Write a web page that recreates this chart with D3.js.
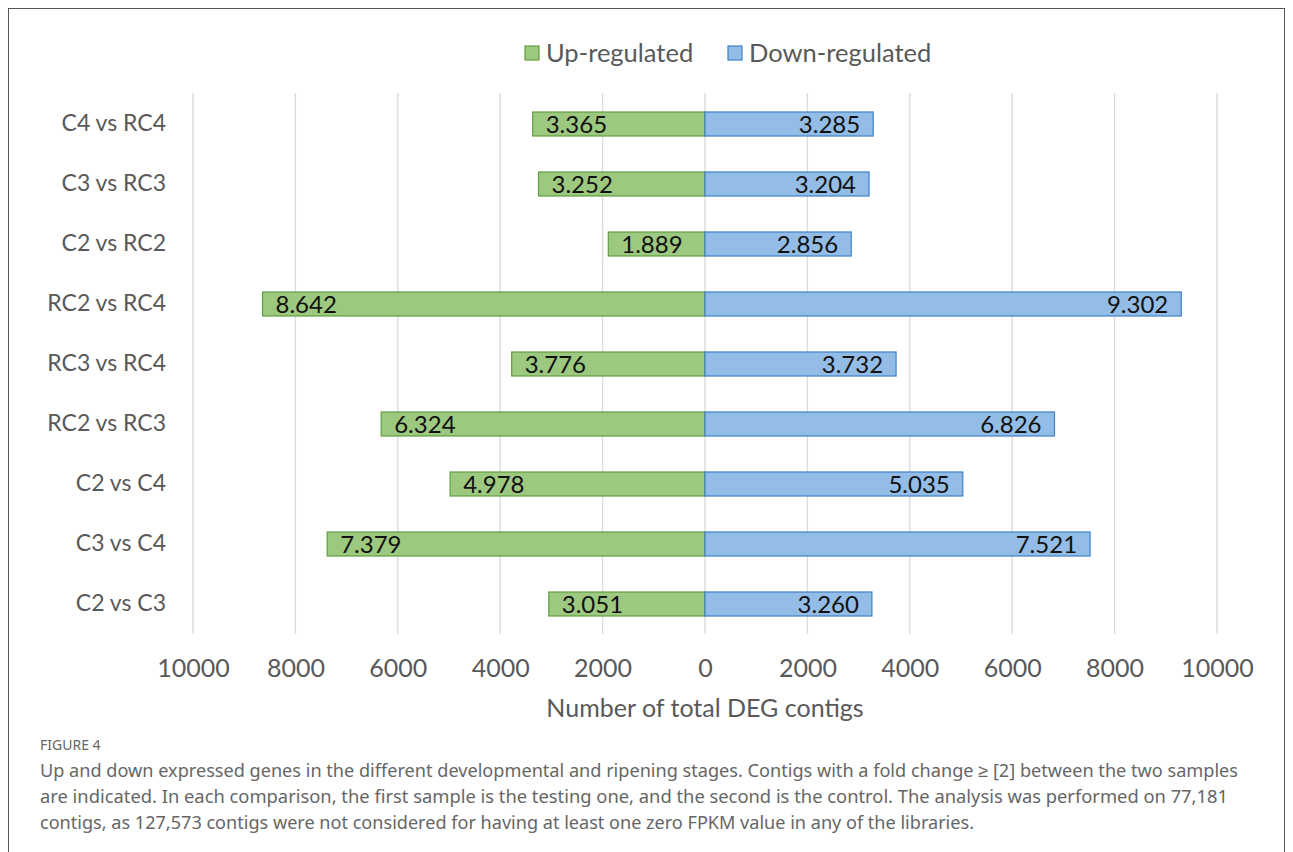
<!DOCTYPE html>
<html><head><meta charset="utf-8">
<script src="https://cdn.jsdelivr.net/npm/d3@7"></script>
<style>
html,body{margin:0;padding:0;background:#fff;}
svg{display:block;}
</style></head>
<body>
<svg id="chart" width="1293" height="852"></svg>
<script>
const categories = ["C4 vs RC4","C3 vs RC3","C2 vs RC2","RC2 vs RC4","RC3 vs RC4","RC2 vs RC3","C2 vs C4","C3 vs C4","C2 vs C3"];
const upValues = [3365,3252,1889,8642,3776,6324,4978,7379,3051];
const downValues = [3285,3204,2856,9302,3732,6826,5035,7521,3260];
const tickValues = [-10000,-8000,-6000,-4000,-2000,0,2000,4000,6000,8000,10000];
const seriesNames = ["Up-regulated","Down-regulated"];
const captionTitle = "FIGURE 4";
const captionLines = [
 "Up and down expressed genes in the different developmental and ripening stages. Contigs with a fold change \u2265 [2] between the two samples",
 "are indicated. In each comparison, the first sample is the testing one, and the second is the control. The analysis was performed on 77,181",
 "contigs, as 127,573 contigs were not considered for having at least one zero FPKM value in any of the libraries."
];

const svg = d3.select("#chart");
const font = "Lato, 'Open Sans', sans-serif";
const gridColor = "#d9d9d9", textColor = "#595959";
const upFill = "#9cc880", upStroke = "#5f9e3f";
const downFill = "#93bde6", downStroke = "#3f80c6";

// frame
svg.append("rect").attr("x",8.5).attr("y",8.5).attr("width",1276).attr("height",860)
  .attr("fill","none").attr("stroke","#555").attr("stroke-width",1);

const x = d3.scaleLinear().domain([-10000,10000]).range([193,1217]);
const y = d3.scaleBand().domain(categories).range([94,634]).paddingInner(0.6).paddingOuter(0.3);

// gridlines
svg.append("g").selectAll("line").data(tickValues).join("line")
  .attr("x1",d=>x(d)).attr("x2",d=>x(d)).attr("y1",93).attr("y2",634)
  .attr("stroke",gridColor).attr("stroke-width",1.3);

// x axis tick labels via d3 axis
const xAxis = d3.axisBottom(x).tickValues(tickValues).tickSize(0).tickFormat(d=>String(Math.abs(d)));
const gx = svg.append("g").attr("transform","translate(0,656)").call(xAxis);
gx.select(".domain").remove();
gx.selectAll("text").attr("font-family",font).attr("font-size",25).attr("fill",textColor).attr("dy","0.71em");

// y axis labels
const yAxis = d3.axisLeft(y).tickSize(0);
const gy = svg.append("g").attr("transform","translate(169,0)").call(yAxis);
gy.select(".domain").remove();
gy.selectAll("text").attr("font-family",font).attr("font-size",23).attr("fill",textColor);

// bars
const rows = categories.map((c,i)=>({c, up:upValues[i], down:downValues[i]}));
svg.append("g").selectAll("rect").data(rows).join("rect")
  .attr("x",d=>x(-d.up)).attr("width",d=>x(0)-x(-d.up))
  .attr("y",d=>y(d.c)).attr("height",y.bandwidth())
  .attr("fill",upFill).attr("stroke",upStroke).attr("stroke-width",1.2);
svg.append("g").selectAll("rect").data(rows).join("rect")
  .attr("x",x(0)).attr("width",d=>x(d.down)-x(0))
  .attr("y",d=>y(d.c)).attr("height",y.bandwidth())
  .attr("fill",downFill).attr("stroke",downStroke).attr("stroke-width",1.2);

const fmt = v => d3.format(",")(v).replace(",",".");
svg.append("g").selectAll("text").data(rows).join("text")
  .attr("x",d=>x(-d.up)+13).attr("y",d=>y(d.c)+y.bandwidth()/2).attr("dy","0.36em")
  .attr("font-family",font).attr("font-size",24).attr("fill","#111")
  .text(d=>fmt(d.up));
svg.append("g").selectAll("text").data(rows).join("text")
  .attr("x",d=>x(d.down)-13).attr("y",d=>y(d.c)+y.bandwidth()/2).attr("dy","0.36em")
  .attr("text-anchor","end")
  .attr("font-family",font).attr("font-size",24).attr("fill","#111")
  .text(d=>fmt(d.down));

// axis title
svg.append("text").attr("x",705).attr("y",717).attr("text-anchor","middle")
  .attr("font-family",font).attr("font-size",25).attr("fill",textColor)
  .text("Number of total DEG contigs");

// legend
const legX = [525, 728];
const lg = svg.append("g").selectAll("g").data(seriesNames).join("g")
  .attr("transform",(d,i)=>`translate(${legX[i]},46)`);
lg.append("rect").attr("width",14).attr("height",14)
  .attr("fill",(d,i)=>i?downFill:upFill).attr("stroke",(d,i)=>i?downStroke:upStroke).attr("stroke-width",1.2);
lg.append("text").attr("x",21).attr("y",7).attr("dy","0.36em")
  .attr("font-family",font).attr("font-size",25.5).attr("fill",textColor).text(d=>d);

// caption
svg.append("text").attr("x",40).attr("y",750).attr("font-family","'Noto Sans', sans-serif")
  .attr("font-size",14).attr("fill","#666").text(captionTitle);
svg.append("g").selectAll("text").data(captionLines).join("text")
  .attr("x",40).attr("y",(d,i)=>777+i*26)
  .attr("font-family","'Noto Sans', sans-serif").attr("font-size",18).attr("fill","#666")
  .attr("textLength",(d,i)=>[1198,1188,934][i]).attr("lengthAdjust","spacingAndGlyphs")
  .text(d=>d);
</script>
</body></html>
